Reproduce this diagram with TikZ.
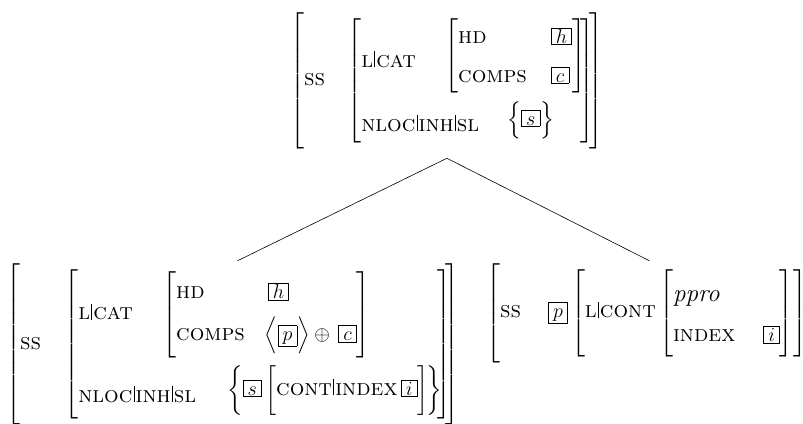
\RequirePackage{fix-cm}
\documentclass[tikz,border=0pt]{standalone}
\usepackage{amsmath}
\usetikzlibrary{positioning}

\setlength{\fboxsep}{1pt}
\setlength{\fboxrule}{0.6pt}
\newcommand{\ft}[1]{{\fontsize{23}{24}\selectfont\textsc{#1}}}
\newcommand{\pbar}{\kern1.2pt\rule{0.8pt}{16pt}\kern1.2pt}
\newcommand{\tg}[1]{\fbox{$\vphantom{h}\,#1\,$}}
\newcommand{\sr}[2]{\rule[-#2]{0pt}{\dimexpr#1+#2\relax}}

\begin{document}
\begin{tikzpicture}[x=1pt, y=1pt, avm/.style={inner sep=0pt, anchor=north west, font=\fontsize{20}{24}\selectfont}, branch/.style={line width=0.6pt}]
\useasboundingbox (0,0) rectangle (803,-423);

% mother
\node[avm] (top) at (290,-12) {$\left[\sr{71pt}{61pt}\begin{array}{@{}l@{\hspace{-5pt}}}
\ft{ss}\hspace{19pt}\left[\begin{array}{@{}l@{\hspace{-5pt}}}
\sr{44pt}{34pt}\raisebox{-6pt}{\ft{l\pbar cat}}\hspace{25pt}\left[\begin{array}{@{}l@{\hspace{24pt}}l@{}}
\sr{22pt}{15pt}\ft{hd} & \tg{h}\\
\sr{24pt}{9pt}\ft{comps} & \tg{c}
\end{array}\right]\\
\sr{36pt}{13pt}\ft{nloc\pbar inh\pbar sl}\hspace{28pt}\raisebox{6pt}{$\left\{\sr{19pt}{9pt}\tg{s}\right\}$}
\end{array}\right]
\end{array}\right]$};

% head daughter
\node[avm] (head) at (6,-263) {$\left[\sr{83pt}{77pt}\begin{array}{@{}l@{\hspace{-5pt}}}
\ft{ss}\hspace{20pt}\left[\begin{array}{@{}l@{\hspace{-5pt}}}
\sr{50pt}{37pt}\ft{l\pbar cat}\hspace{26pt}\left[\begin{array}{@{}l@{\hspace{20pt}}l@{}}
\sr{25pt}{12pt}\ft{hd} & \hspace{3pt}\tg{h}\\
\sr{30pt}{15pt}\ft{comps} & \left\langle\sr{24pt}{14pt}\tg{p}\right\rangle\oplus\hspace{4pt}\tg{c}
\end{array}\right]\\
\sr{44pt}{16pt}\ft{nloc\pbar inh\pbar sl}\hspace{31pt}\raisebox{7pt}{$\left\{\tg{s}\left[\sr{30pt}{20pt}\ft{cont\pbar index}\,\tg{i}\right]\kern-2pt\right\}$}
\end{array}\right]
\end{array}\right]$};

% complement daughter
\node[avm] (comp) at (486,-263) {$\left[\sr{50pt}{42pt}\ft{ss}\hspace{27pt}\tg{p}\left[\ft{l\pbar cont}\left[\begin{array}{@{}l@{\hspace{28pt}}l@{}}
\multicolumn{2}{@{}l@{}}{\sr{32pt}{13pt}\textit{\fontsize{25}{25}\selectfont ppro}}\\
\sr{27pt}{14pt}\ft{index} & \tg{i}
\end{array}\right]\right]\right]$};

\coordinate[below=9pt of top.south] (apex);
\draw[branch, shorten >=5pt] (apex) -- (head.north);
\draw[branch, shorten >=5pt] (apex) -- (comp.north);
\end{tikzpicture}
\end{document}
